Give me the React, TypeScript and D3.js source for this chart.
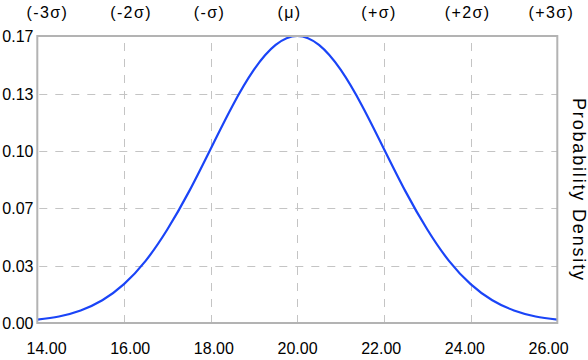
import React from "react";
import * as d3 from "d3";

// x positions (value on axis) and density
const xValues = [14, 14.5, 15, 15.5, 16, 16.5, 17, 17.5, 18, 18.5, 19, 19.5, 20, 20.5, 21, 21.5, 22, 22.5, 23, 23.5, 24, 24.5, 25, 25.5, 26];
const densityValues = [0.002, 0.0038, 0.0073, 0.0132, 0.0226, 0.0361, 0.0543, 0.0763, 0.1011, 0.1259, 0.1471, 0.1615, 0.1667, 0.1615, 0.1471, 0.1259, 0.1011, 0.0763, 0.0543, 0.0361, 0.0226, 0.0132, 0.0073, 0.0038, 0.002];

const xTicks = [14, 16, 18, 20, 22, 24, 26];
const yTicks = [0, 0.0333, 0.0667, 0.1, 0.1333, 0.1667];
const sigmaLabels = ["(-3σ)", "(-2σ)", "(-σ)", "(μ)", "(+σ)", "(+2σ)", "(+3σ)"];
const yTitle = "Probability Density";

const W = 588;
const H = 360;
const left = 37.3;
const right = 557.3;
const top = 36;
const bottom = 323;

export default function App() {
  const x = d3.scaleLinear().domain([14, 26]).range([left, right]);
  const y = d3.scaleLinear().domain([0, 0.1667]).range([bottom, top]);
  const labelPos = d3.scalePoint<number>().domain(d3.range(7)).range([26.5, 528.5]);
  const fmt = d3.format(".2f");

  const pts = xValues.map((v, i) => [v, densityValues[i]] as [number, number]);
  const line = d3
    .line<[number, number]>()
    .x((d) => x(d[0]))
    .y((d) => y(d[1]))
    .curve(d3.curveNatural);

  const font = "'Liberation Sans', Arial, Helvetica, sans-serif";

  return (
    <svg
      width={W}
      height={H}
      style={{ position: "absolute", left: 0, top: 0, background: "#fff" }}
      fontFamily={font}
    >
      {/* grid */}
      {yTicks.slice(1, -1).map((t) => (
        <line
          key={"gy" + t}
          x1={left}
          x2={right}
          y1={Math.round(y(t)) + 0.5}
          y2={Math.round(y(t)) + 0.5}
          stroke="#c4c4c4"
          strokeWidth={1}
          strokeDasharray="8,8"
          strokeDashoffset={-2}
        />
      ))}
      {xTicks.slice(1, -1).map((t) => (
        <line
          key={"gx" + t}
          x1={Math.round(x(t)) + 0.5}
          x2={Math.round(x(t)) + 0.5}
          y1={bottom}
          y2={top}
          stroke="#c4c4c4"
          strokeWidth={1}
          strokeDasharray="8,8"
        />
      ))}

      {/* curve */}
      <path d={line(pts) || ""} fill="none" stroke="#1a44f7" strokeWidth={2.2} />

      {/* frame */}
      <rect
        x={left}
        y={top}
        width={right - left}
        height={bottom - top}
        fill="none"
        stroke="#b3b3b3"
        strokeWidth={2}
      />

      {/* y tick labels */}
      {yTicks.map((t) => (
        <text key={"yl" + t} x={33.5} y={y(t) + 6} textAnchor="end" fontSize={16} fill="#000">
          {fmt(t)}
        </text>
      ))}

      {/* x tick labels */}
      {xTicks.map((t, i) => (
        <text key={"xl" + t} x={labelPos(i)} y={354} textAnchor="start" fontSize={16} fill="#000">
          {fmt(t)}
        </text>
      ))}

      {/* sigma labels */}
      {sigmaLabels.map((s, i) => (
        <text
          key={"sl" + i}
          x={labelPos(i)}
          y={17.5}
          textAnchor="start"
          fontSize={16}
          letterSpacing={1.4}
          fill="#000"
        >
          {s}
        </text>
      ))}

      {/* right title */}
      <text
        transform={`translate(573, 189) rotate(90)`}
        textAnchor="middle"
        fontSize={18}
        textLength={182}
        lengthAdjust="spacing"
        fill="#000"
      >
        {yTitle}
      </text>
    </svg>
  );
}
